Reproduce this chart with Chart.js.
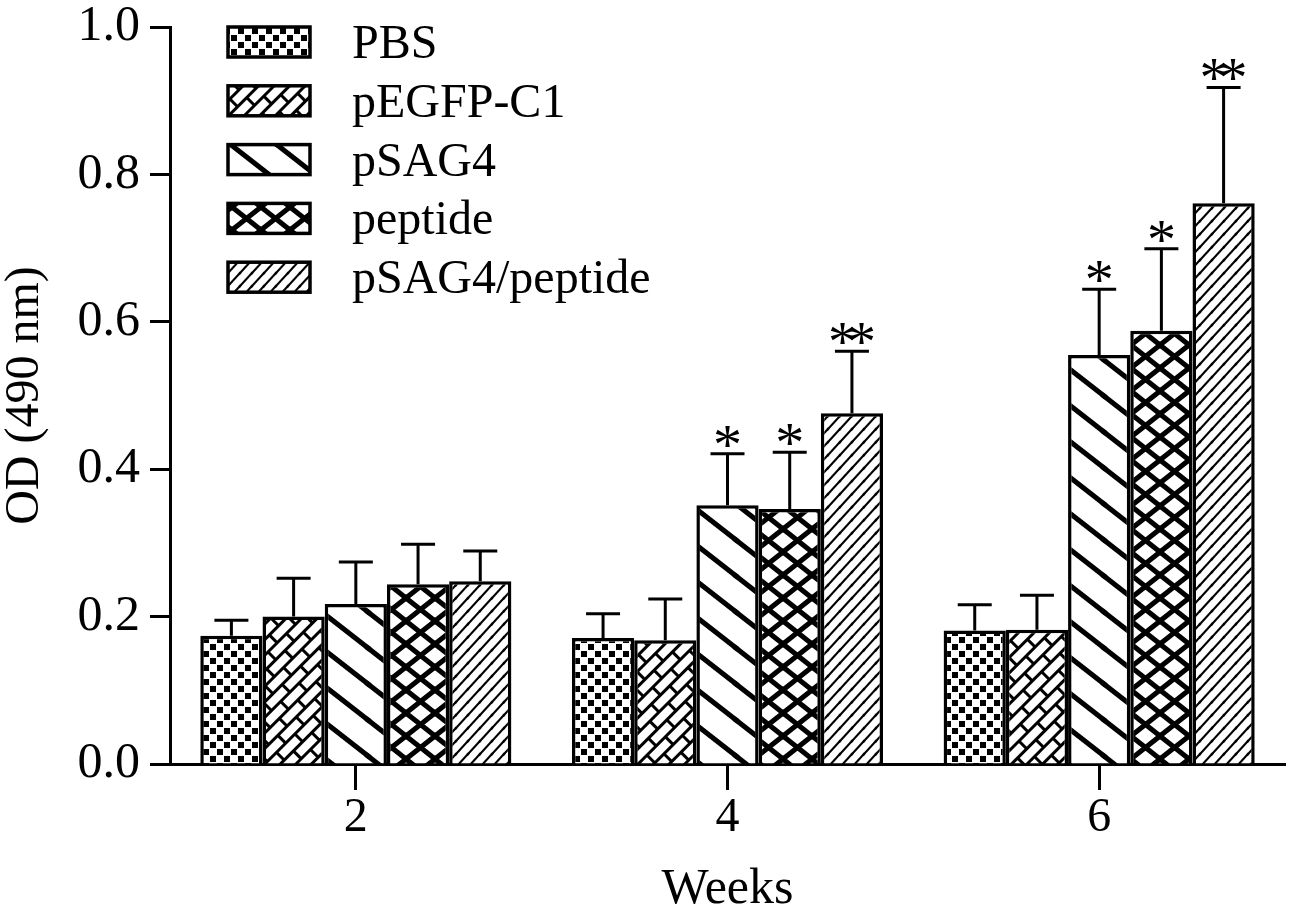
<!DOCTYPE html>
<html>
<head>
<meta charset="utf-8">
<script src="https://cdn.jsdelivr.net/npm/chart.js@4.4.0/dist/chart.umd.min.js"></script>
<style>
  html, body { margin: 0; padding: 0; background: #fff; }
  #wrap { width: 1293px; height: 915px; }
</style>
</head>
<body>
<div id="wrap"><canvas id="grafico"></canvas></div>
<script>
// Dados
const semanas = ['2', '4', '6'];
const grupos = ['PBS', 'pEGFP-C1', 'pSAG4', 'peptide', 'pSAG4/peptide'];

const pbs = [0.174, 0.171, 0.181];
const pbsErro = [0.021, 0.033, 0.035];
const pegfp = [0.200, 0.168, 0.182];
const pegfpErro = [0.052, 0.056, 0.047];
const psag4 = [0.217, 0.351, 0.555];
const psag4Erro = [0.057, 0.070, 0.089];
const peptide = [0.244, 0.346, 0.588];
const peptideErro = [0.054, 0.077, 0.111];
const combo = [0.248, 0.476, 0.761];
const comboErro = [0.041, 0.084, 0.157];

const psag4Sig = ['', '*', '*'];
const peptideSig = ['', '*', '*'];
const comboSig = ['', '**', '**'];

const yTicks = [0, 0.2, 0.4, 0.6, 0.8, 1.0];

const fonte = "'Liberation Serif', 'Times New Roman', serif";

// Padrões de preenchimento (hachuras)
function padraoXadrez() {
    const c = document.createElement('canvas');
    c.width = 14; c.height = 14;
    const ctx = c.getContext('2d');
    ctx.fillStyle = '#fff';
    ctx.fillRect(0, 0, 14, 14);
    ctx.fillStyle = '#000';
    ctx.fillRect(0, 0, 6, 6);
    ctx.fillRect(7, 7, 6, 6);
    return ctx.createPattern(c, 'repeat');
}

// linhas diagonais em um tile W x H (dir = 1 para "\", -1 para "/")
function padraoLinhas(W, H, largura, familias) {
    const c = document.createElement('canvas');
    c.width = W; c.height = H;
    const ctx = c.getContext('2d');
    ctx.fillStyle = '#fff';
    ctx.fillRect(0, 0, W, H);
    ctx.strokeStyle = '#000';
    ctx.lineWidth = largura;
    ctx.lineCap = 'square';
    familias.forEach(dir => {
        for (let dx = -1; dx <= 1; dx++) {
            for (let dy = -1; dy <= 1; dy++) {
                ctx.beginPath();
                if (dir === 1) {
                    ctx.moveTo(dx * W, dy * H);
                    ctx.lineTo(dx * W + W, dy * H + H);
                } else {
                    ctx.moveTo(dx * W, dy * H + H);
                    ctx.lineTo(dx * W + W, dy * H);
                }
                ctx.stroke();
            }
        }
    });
    return ctx.createPattern(c, 'repeat');
}

function padraoTijolo() {
    const L = 26, h = 11, t = 3;
    const c = document.createElement('canvas');
    c.width = L; c.height = 2 * h;
    const ctx = c.getContext('2d');
    ctx.fillStyle = '#fff';
    ctx.fillRect(0, 0, L, 2 * h);
    ctx.fillStyle = '#000';
    ctx.fillRect(0, 0, L, t);
    ctx.fillRect(0, h, L, t);
    ctx.fillRect(0, 0, t, h);
    ctx.fillRect(L / 2, h, t, h);
    const p = ctx.createPattern(c, 'repeat');
    p.setTransform(new DOMMatrix().rotateSelf(-45));
    return p;
}

const padroes = [
    padraoXadrez(),
    padraoTijolo(),
    padraoLinhas(46, 36, 5, [1]),
    padraoLinhas(29, 23, 5, [1, -1]),
    padraoLinhas(12, 13, 2.2, [-1])
];

const medias = [pbs, pegfp, psag4, peptide, combo];
const erros = [pbsErro, pegfpErro, psag4Erro, peptideErro, comboErro];
const sigs = [[], [], psag4Sig, peptideSig, comboSig];

// Barras de erro e asteriscos
const errorBarsPlugin = {
    id: 'errorBars',
    afterDatasetsDraw(chart) {
        const ctx = chart.ctx;
        const y = chart.scales.y;
        ctx.save();
        ctx.strokeStyle = '#000';
        ctx.fillStyle = '#000';
        ctx.lineWidth = 3;
        chart.data.datasets.forEach((ds, i) => {
            const meta = chart.getDatasetMeta(i);
            meta.data.forEach((bar, j) => {
                const topo = y.getPixelForValue(ds.data[j] + ds.erro[j]);
                ctx.beginPath();
                ctx.moveTo(bar.x, bar.y);
                ctx.lineTo(bar.x, topo);
                ctx.moveTo(bar.x - 17, topo);
                ctx.lineTo(bar.x + 17, topo);
                ctx.stroke();
                const s = ds.sig[j] || '';
                ctx.font = '58px ' + fonte;
                ctx.textAlign = 'center';
                ctx.textBaseline = 'alphabetic';
                for (let k = 0; k < s.length; k++) {
                    const off = (k - (s.length - 1) / 2) * 19;
                    ctx.fillText('*', bar.x + off, topo + 10);
                }
            });
        });
        ctx.restore();
    }
};

// Legenda desenhada dentro da área do gráfico
const legendaPlugin = {
    id: 'legendaPadroes',
    afterDraw(chart) {
        const ctx = chart.ctx;
        const area = chart.chartArea;
        ctx.save();
        chart.data.datasets.forEach((ds, i) => {
            const cy = area.top + 15 + i * 58.8;
            const x = area.left + 58;
            ctx.fillStyle = ds.backgroundColor;
            ctx.fillRect(x, cy - 15, 82, 30);
            ctx.strokeStyle = '#000';
            ctx.lineWidth = 3.5;
            ctx.strokeRect(x, cy - 15, 82, 30);
            ctx.fillStyle = '#000';
            ctx.font = '48px ' + fonte;
            ctx.textAlign = 'left';
            ctx.textBaseline = 'alphabetic';
            ctx.fillText(ds.label, area.left + 182, cy + 16);
        });
        ctx.restore();
    }
};

const datasets = grupos.map((nome, i) => ({
    label: nome,
    data: medias[i],
    erro: erros[i],
    sig: sigs[i],
    backgroundColor: padroes[i],
    borderColor: '#000',
    borderWidth: 3.5,
    barPercentage: 1.0,
    categoryPercentage: 0.837
}));

new Chart(document.getElementById('grafico'), {
    type: 'bar',
    data: { labels: semanas, datasets: datasets },
    options: {
        responsive: true,
        maintainAspectRatio: false,
        animation: false,
        layout: { padding: { top: 27, right: 8, left: 0, bottom: 0 } },
        plugins: {
            legend: { display: false },
            tooltip: { enabled: false }
        },
        scales: {
            x: {
                grid: {
                    display: true,
                    drawOnChartArea: false,
                    drawTicks: true,
                    offset: false,
                    tickLength: 26,
                    tickWidth: 3,
                    tickColor: '#000'
                },
                border: { display: true, color: '#000', width: 3 },
                ticks: { color: '#000', font: { family: fonte, size: 48 }, padding: 0 },
                title: {
                    display: true,
                    text: 'Weeks',
                    color: '#000',
                    font: { family: fonte, size: 50, lineHeight: 1.0 },
                    padding: { top: 0, bottom: 0 }
                },
                afterFit(scale) { scale.height = 151; }
            },
            y: {
                min: 0,
                max: 1.0,
                afterBuildTicks(scale) { scale.ticks = yTicks.map(v => ({ value: v })); },
                grid: {
                    display: true,
                    drawOnChartArea: false,
                    drawTicks: true,
                    tickLength: 20,
                    tickWidth: 3,
                    tickColor: '#000'
                },
                border: { display: true, color: '#000', width: 3 },
                ticks: {
                    color: '#000',
                    font: { family: fonte, size: 50, lineHeight: 0.6 },
                    padding: 10,
                    callback: v => Number(v).toFixed(1)
                },
                title: {
                    display: true,
                    text: 'OD (490 nm)',
                    color: '#000',
                    font: { family: fonte, size: 48, lineHeight: 1.05 },
                    padding: { top: 0, bottom: 0 }
                },
                afterFit(scale) { scale.width = 170; }
            }
        }
    },
    plugins: [errorBarsPlugin, legendaPlugin]
});
</script>
</body>
</html>
